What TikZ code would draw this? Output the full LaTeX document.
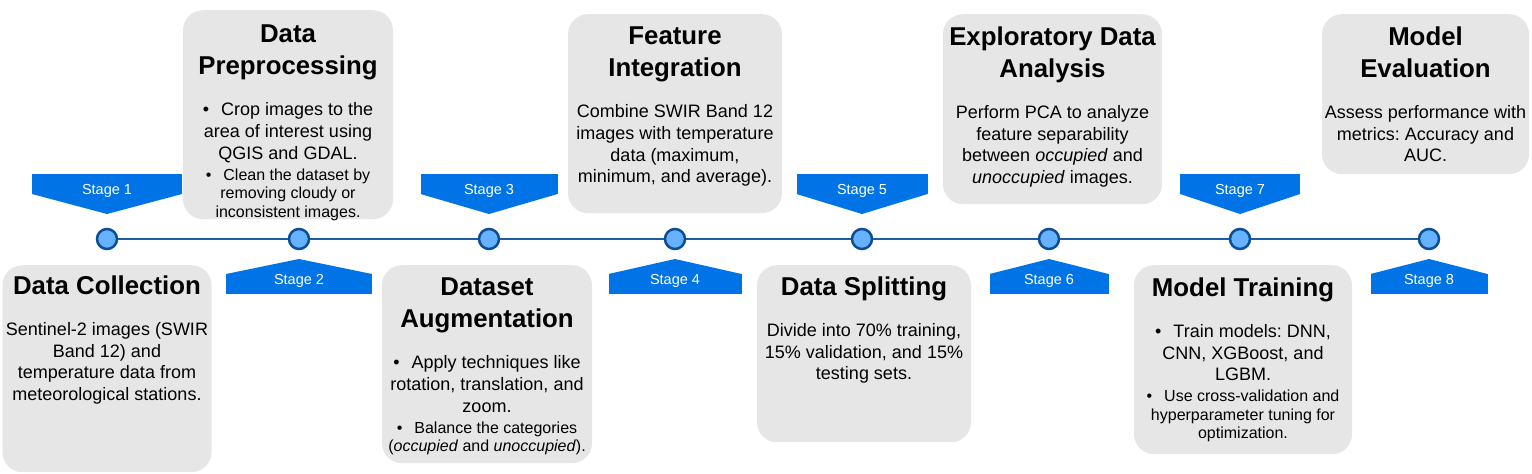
\documentclass[tikz,border=0pt]{standalone}
\usepackage{fontspec}
\setmainfont{Liberation Sans}
\usetikzlibrary{positioning,calc,backgrounds}
\setlength{\parindent}{0pt}
\definecolor{stageblue}{RGB}{0,116,230}
\definecolor{dotfill}{RGB}{102,178,255}
\definecolor{dotline}{RGB}{12,78,150}
\definecolor{trackblue}{RGB}{30,92,165}
\definecolor{cardgray}{RGB}{230,230,230}
\newcommand{\fixspace}{\spaceskip=\fontdimen2\font\relax\xspaceskip=\fontdimen2\font\relax}
\newcommand{\cardtitle}{\fontsize{25.8}{32}\selectfont\bfseries\fixspace}
\newcommand{\cardbody}{\fontsize{18}{21.7}\selectfont\fixspace}
\newcommand{\cardsmall}{\fontsize{16}{18.5}\selectfont\fixspace}
\newcommand{\cardbullet}{\textbullet\hspace{12pt}}
\tikzstyle{milestone} = [circle, draw=dotline, fill=dotfill, line width=2.5pt, minimum size=20pt, inner sep=0pt]
\tikzstyle{link} = [draw=trackblue, line width=2pt]
\tikzstyle{card} = [fill=cardgray, rounded corners=20pt, inner sep=0pt, anchor=north]
\tikzstyle{blurb} = [anchor=north, align=center, text width=230pt, inner sep=0pt]
\tikzstyle{stagetag} = [fill=stageblue, text=white, font=\fontsize{14.5}{16}\selectfont, inner sep=0pt, outer sep=0pt, minimum height=20pt]
\tikzstyle{tagup} = [stagetag, text height=20pt, text depth=0pt]
\tikzstyle{tagdown} = [stagetag, text height=10pt, text depth=10pt]

\begin{document}
\begin{tikzpicture}
	\useasboundingbox (0,0) rectangle (1532pt,-474pt);
	\node (c1) [milestone] at (107pt,-239pt) {};
	\node (c2) [milestone, right of=c1, node distance=192pt] {};
	\node (c3) [milestone, right of=c2, node distance=190pt] {};
	\node (c4) [milestone, right of=c3, node distance=186pt] {};
	\node (c5) [milestone, right of=c4, node distance=187pt] {};
	\node (c6) [milestone, right of=c5, node distance=187pt] {};
	\node (c7) [milestone, right of=c6, node distance=191pt] {};
	\node (c8) [milestone, right of=c7, node distance=189pt] {};
	\draw [link] (c1.east) -- (c2.west);
	\draw [link] (c2.east) -- (c3.west);
	\draw [link] (c3.east) -- (c4.west);
	\draw [link] (c4.east) -- (c5.west);
	\draw [link] (c5.east) -- (c6.west);
	\draw [link] (c6.east) -- (c7.west);
	\draw [link] (c7.east) -- (c8.west);
	\coordinate (toprow) at (0,-14pt);
	\coordinate (botrow) at (0,-265pt);
	\node (collect) [card, minimum width=209pt, minimum height=207pt] at (botrow -| c1) {};
	\node (prep) [card, minimum width=210pt, minimum height=209pt, xshift=-11pt] at ([yshift=4pt]toprow -| c2) {};
	\node (augment) [card, minimum width=210pt, minimum height=198pt, xshift=-2pt] at (botrow -| c3) {};
	\node (feature) [card, minimum width=214pt, minimum height=199pt] at (toprow -| c4) {};
	\node (split) [card, minimum width=214pt, minimum height=177pt, xshift=2pt] at (botrow -| c5) {};
	\node (explore) [card, minimum width=219pt, minimum height=190pt, xshift=3.5pt] at (toprow -| c6) {};
	\node (train) [card, minimum width=218pt, minimum height=189pt, xshift=3pt] at (botrow -| c7) {};
	\node (assess) [card, minimum width=207pt, minimum height=160pt, xshift=-3.5pt] at (toprow -| c8) {};
	\node (collecttext) [blurb, below=11pt of collect.north] {{\cardtitle Data Collection\par}\vspace{19pt}{\cardbody Sentinel-2 images (SWIR\\Band 12) and\\temperature data from\\meteorological stations.\par}};
	\node (preptext) [blurb, below=15pt of prep.north] {{\cardtitle Data\\Preprocessing\par}\vspace{19pt}{\cardbody\cardbullet Crop images to the\\area of interest using\\QGIS and GDAL.\par}\vspace{2.5pt}{\cardsmall\cardbullet Clean the dataset by\\removing cloudy or\\inconsistent images.\par}};
	\node (augmenttext) [blurb, below=13pt of augment.north] {{\cardtitle Dataset\\Augmentation\par}\vspace{19pt}{\cardbody\cardbullet Apply techniques like\\rotation, translation, and\\zoom.\par}\vspace{2.5pt}{\cardsmall\cardbullet Balance the categories\\(\textit{occupied} and \textit{unoccupied}).\par}};
	\node (featuretext) [blurb, below=13pt of feature.north] {{\cardtitle Feature\\Integration\par}\vspace{19pt}{\cardbody Combine SWIR Band 12\\images with temperature\\data (maximum,\\minimum, and average).\par}};
	\node (splittext) [blurb, below=12pt of split.north] {{\cardtitle Data Splitting\par}\vspace{19pt}{\cardbody Divide into 70\% training,\\15\% validation, and 15\%\\testing sets.\par}};
	\node (exploretext) [blurb, below=13pt of explore.north] {{\cardtitle Exploratory Data\\Analysis\par}\vspace{19pt}{\cardbody Perform PCA to analyze\\feature separability\\between \textit{occupied} and\\\textit{unoccupied} images.\par}};
	\node (traintext) [blurb, below=13pt of train.north] {{\cardtitle Model Training\par}\vspace{19pt}{\cardbody\cardbullet Train models: DNN,\\CNN, XGBoost, and\\LGBM.\par}\vspace{2.5pt}{\cardsmall\cardbullet Use cross-validation and\\hyperparameter tuning for\\optimization.\par}};
	\node (assesstext) [blurb, below=13pt of assess.north] {{\cardtitle Model\\Evaluation\par}\vspace{19pt}{\cardbody Assess performance with\\metrics: Accuracy and\\AUC.\par}};
	\node (s1) [tagup, minimum width=150pt, above of=c1, node distance=55pt] {Stage 1};
	\node (s2) [tagdown, minimum width=146pt, below of=c2, node distance=45pt] {Stage 2};
	\node (s3) [tagup, minimum width=137pt, above of=c3, node distance=55pt] {Stage 3};
	\node (s4) [tagdown, minimum width=133pt, below of=c4, node distance=45pt] {Stage 4};
	\node (s5) [tagup, minimum width=131pt, above of=c5, node distance=55pt] {Stage 5};
	\node (s6) [tagdown, minimum width=119pt, below of=c6, node distance=45pt] {Stage 6};
	\node (s7) [tagup, minimum width=120pt, above of=c7, node distance=55pt] {Stage 7};
	\node (s8) [tagdown, minimum width=117pt, below of=c8, node distance=45pt] {Stage 8};
	\begin{scope}[on background layer]
	\fill [stageblue] (s1.south west) -- (s1.south east) -- ([yshift=-20pt]s1.south) -- cycle;
	\fill [stageblue] (s2.north west) -- (s2.north east) -- ([yshift=15pt]s2.north) -- cycle;
	\fill [stageblue] (s3.south west) -- (s3.south east) -- ([yshift=-20pt]s3.south) -- cycle;
	\fill [stageblue] (s4.north west) -- (s4.north east) -- ([yshift=15pt]s4.north) -- cycle;
	\fill [stageblue] (s5.south west) -- (s5.south east) -- ([yshift=-20pt]s5.south) -- cycle;
	\fill [stageblue] (s6.north west) -- (s6.north east) -- ([yshift=15pt]s6.north) -- cycle;
	\fill [stageblue] (s7.south west) -- (s7.south east) -- ([yshift=-20pt]s7.south) -- cycle;
	\fill [stageblue] (s8.north west) -- (s8.north east) -- ([yshift=15pt]s8.north) -- cycle;
	\end{scope}
\end{tikzpicture}
\end{document}
